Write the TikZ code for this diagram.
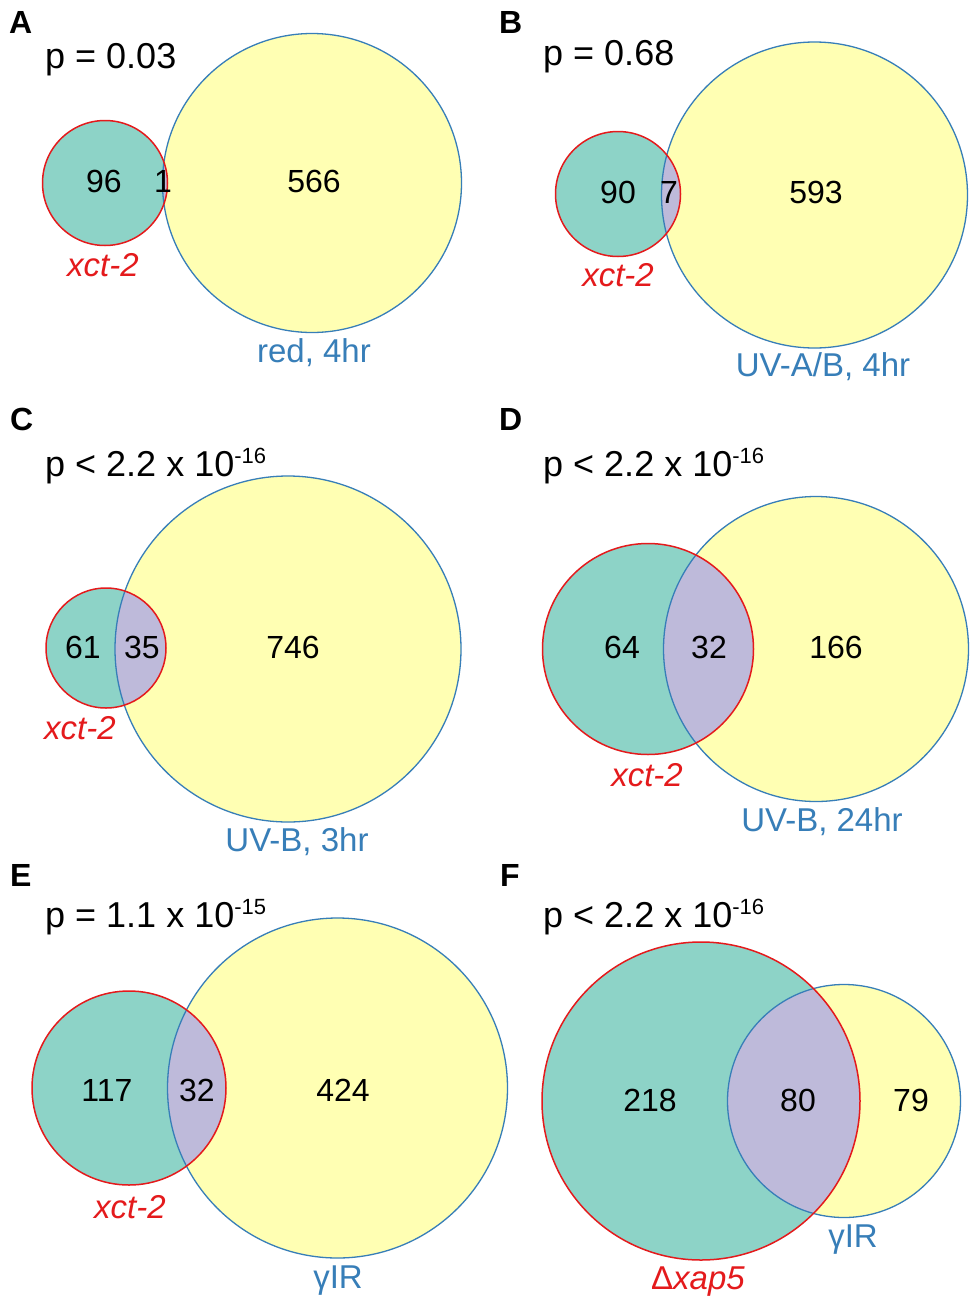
\documentclass[tikz,border=0pt]{standalone}
\usepackage{fontspec}
\setmainfont{Liberation Sans}
\definecolor{tealfill}{RGB}{141,211,199}
\definecolor{yelfill}{RGB}{255,255,179}
\definecolor{purfill}{RGB}{190,186,218}
\definecolor{redline}{RGB}{228,26,28}
\definecolor{blueline}{RGB}{55,126,184}
\newcommand\vennpair[6]{%
  \fill[tealfill] (#1,#2) circle (#3pt);
  \fill[yelfill] (#4,#5) circle (#6pt);
  \begin{scope}
    \clip (#1,#2) circle (#3pt);
    \fill[purfill] (#4,#5) circle (#6pt);
  \end{scope}
  \draw[blueline, line width=1.3pt] (#4,#5) circle (#6pt);
  \draw[redline, line width=1.5pt] (#1,#2) circle (#3pt);
}
\newcommand\pexp[1]{\raisebox{13pt}{\fontsize{22}{22}\selectfont #1}}
\begin{document}
\begin{tikzpicture}[x=1pt,y=-1pt,
  num/.style={inner sep=0pt, font=\fontsize{32}{32}\selectfont},
  pval/.style={inner sep=0pt, anchor=base west, font=\fontsize{36}{36}\selectfont},
  panel/.style={inner sep=0pt, anchor=base west, font=\fontsize{32}{32}\selectfont\bfseries},
  redlab/.style={inner sep=0pt, text=redline, font=\fontsize{33}{33}\selectfont\itshape},
  bluelab/.style={inner sep=0pt, text=blueline, font=\fontsize{33}{33}\selectfont}]
\useasboundingbox[fill=white] (0,0) rectangle (975,1304);

% Panel A
\vennpair{105}{183}{62.5}{312}{183}{149.5}
\node[panel] (lA) at (9,33) {A};
\node[pval] (pA) at (45,68) {p = 0.03};
\node[num] (a1) at (104,181) {96};
\node[num] (a2) at (163,181) {1};
\node[num] (a3) at (314,181) {566};
\node[redlab] (aL) at (103,265) {xct-2};
\node[bluelab] (aR) at (314,353) {red, 4hr};

% Panel B
\vennpair{618}{194}{62.5}{814.5}{195}{153}
\node[panel] (lB) at (499,33) {B};
\node[pval] (pB) at (543,65) {p = 0.68};
\node[num] (b1) at (618,192) {90};
\node[num] (b2) at (669,192) {7};
\node[num] (b3) at (816,192) {593};
\node[redlab] (bL) at (618,275) {xct-2};
\node[bluelab] (bR) at (823,367) {UV-A/B, 4hr};

% Panel C
\vennpair{106}{648}{60}{288}{649}{173}
\node[panel] (lC) at (10,430) {C};
\node[pval] (pC) at (45,476) {p < 2.2 x 10\pexp{-16}};
\node[num] (c1) at (83,647) {61};
\node[num] (c2) at (142,647) {35};
\node[num] (c3) at (293,647) {746};
\node[redlab] (cL) at (80,728) {xct-2};
\node[bluelab] (cR) at (297,842) {UV-B, 3hr};

% Panel D
\vennpair{648}{649}{105.5}{816}{649}{152.5}
\node[panel] (lD) at (499,430) {D};
\node[pval] (pD) at (543,476) {p < 2.2 x 10\pexp{-16}};
\node[num] (d1) at (622,647) {64};
\node[num] (d2) at (709,647) {32};
\node[num] (d3) at (836,647) {166};
\node[redlab] (dL) at (647,775) {xct-2};
\node[bluelab] (dR) at (822,822) {UV-B, 24hr};

% Panel E
\vennpair{129}{1088}{97}{337.5}{1088}{170}
\node[panel] (lE) at (10,886) {E};
\node[pval] (pE) at (45,927) {p = 1.1 x 10\pexp{-15}};
\node[num] (e1) at (107,1090) {117};
\node[num] (e2) at (197,1090) {32};
\node[num] (e3) at (343,1090) {424};
\node[redlab] (eL) at (130,1207) {xct-2};
\node[bluelab] (eR) at (338,1281) {γIR};

% Panel F
\vennpair{701}{1101}{159}{844}{1101}{116.5}
\node[panel] (lF) at (500,886) {F};
\node[pval] (pF) at (543,927) {p < 2.2 x 10\pexp{-16}};
\node[num] (f1) at (650,1100) {218};
\node[num] (f2) at (798,1100) {80};
\node[num] (f3) at (911,1100) {79};
\node[bluelab] (fR) at (853,1240) {γIR};
\node[redlab] (fL) at (698,1282) {{\upshape Δ}xap5};
\end{tikzpicture}
\end{document}
